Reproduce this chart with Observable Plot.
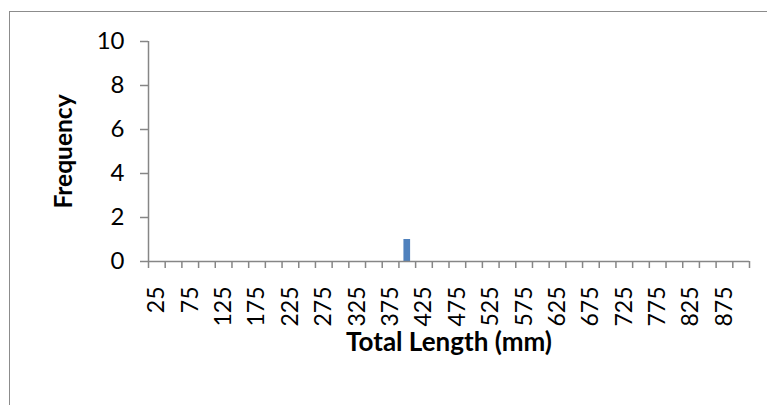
<!DOCTYPE html>
<html>
<head>
<meta charset="utf-8">
<script src="https://cdn.jsdelivr.net/npm/d3@7"></script>
<script src="https://cdn.jsdelivr.net/npm/@observablehq/plot@0.6"></script>
<style>
  html, body { margin: 0; padding: 0; background: #fff; }
  #wrap { position: relative; width: 767px; height: 405px; overflow: hidden; }
  #border { position: absolute; left: 9px; top: 11px; width: 900px; height: 500px;
            border-left: 1.5px solid #8c8c8c; border-top: 1.5px solid #8c8c8c; }
  #chart { position: absolute; left: 0; top: 0; }
  #chart svg { font-family: Lato, "Open Sans", sans-serif; }
  g[aria-label="x-axis tick label"] text { font-size: 23px; }
  g[aria-label="y-axis tick label"] text { font-size: 24px; }
  g[aria-label="x-axis label"] text { font-weight: bold; font-size: 26px; }
  g[aria-label="y-axis label"] text { font-weight: bold; font-size: 24.5px; }
</style>
</head>
<body>
<div id="wrap"><div id="border"></div><div id="chart"></div></div>
<script>
// Bin labels (mm) and counts per bin
const lengths = [25, 50, 75, 100, 125, 150, 175, 200, 225, 250, 275, 300,
  325, 350, 375, 400, 425, 450, 475, 500, 525, 550, 575, 600,
  625, 650, 675, 700, 725, 750, 775, 800, 825, 850, 875, 900];
const counts = [0, 0, 0, 0, 0, 0, 0, 0, 0, 0, 0, 0,
  0, 0, 0, 1, 0, 0, 0, 0, 0, 0, 0, 0,
  0, 0, 0, 0, 0, 0, 0, 0, 0, 0, 0, 0];
const labeledLengths = [25, 75, 125, 175, 225, 275, 325, 375, 425, 475,
  525, 575, 625, 675, 725, 775, 825, 875];
const yTicks = [0, 2, 4, 6, 8, 10];

const binWidth = 25;
const data = lengths.map((c, i) => ({length: c, count: counts[i]}));
const edges = lengths.map(c => c - binWidth / 2).concat([lengths[lengths.length - 1] + binWidth / 2]);
const xDomain = [edges[0], edges[edges.length - 1]];

const axisColor = "#868686";

const chart = Plot.plot({
  width: 767,
  height: 405,
  marginLeft: 148,
  marginRight: 18,
  marginTop: 41,
  marginBottom: 144,
  style: {color: "#000", background: "transparent"},
  x: {domain: xDomain},
  y: {domain: [0, 10]},
  marks: [
    Plot.rectY(data.filter(d => d.count > 0), {
      x1: d => d.length - binWidth * 0.2,
      x2: d => d.length + binWidth * 0.2,
      y1: 0,
      y2: "count",
      fill: "#4F81BD"
    }),
    Plot.ruleY([0], {stroke: axisColor, strokeWidth: 1.5}),
    Plot.ruleX([xDomain[0]], {stroke: axisColor, strokeWidth: 1.5}),
    Plot.axisY({
      ticks: yTicks,
      tickSize: 8,
      tickPadding: 16,
      stroke: axisColor,
      strokeWidth: 1.5,
      label: "Frequency",
      labelAnchor: "center",
      labelOffset: 94,
      labelArrow: false
    }),
    Plot.axisX({
      ticks: edges,
      tickSize: 7,
      tickFormat: () => "",
      stroke: axisColor,
      strokeWidth: 1.5,
      label: null
    }),
    Plot.axisX({
      ticks: labeledLengths,
      tickSize: 0,
      tickPadding: 25,
      tickRotate: -90,
      label: "Total Length (mm)",
      labelAnchor: "center",
      labelOffset: 89,
      labelArrow: false
    })
  ]
});
document.getElementById("chart").appendChild(chart);
</script>
</body>
</html>
